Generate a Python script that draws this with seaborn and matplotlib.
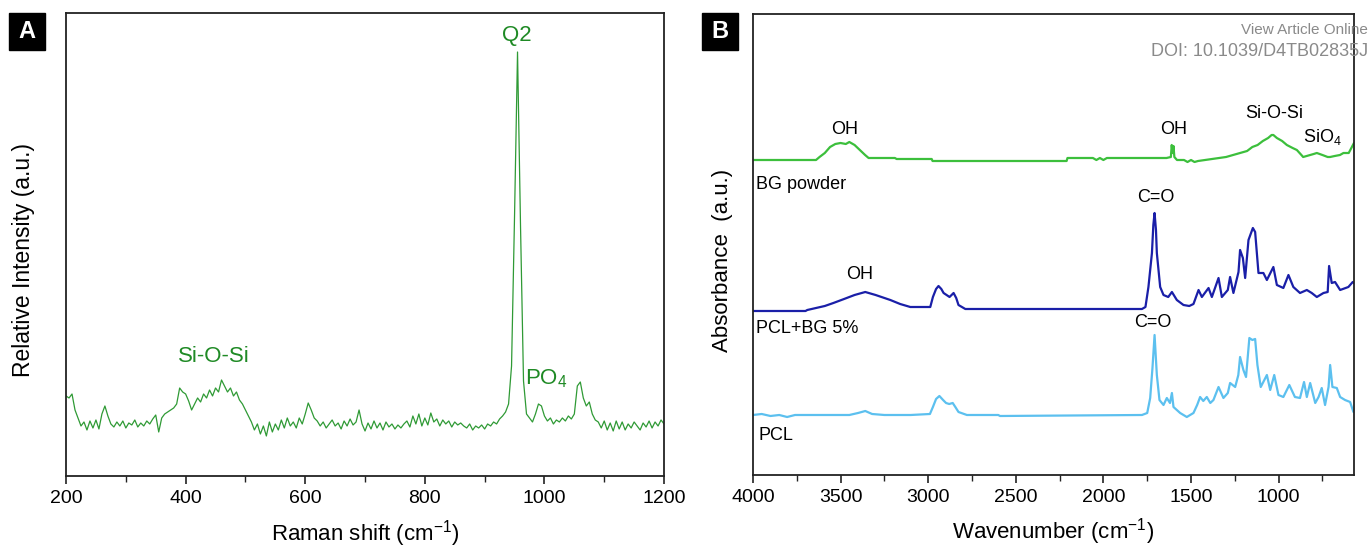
"""
Raman (A) and FTIR (B) spectra of the bioactive glass and PCL scaffolds,
values read off the published figure.
"""

import matplotlib
matplotlib.use("Agg")
import matplotlib.pyplot as plt
from matplotlib.patches import Rectangle
from matplotlib.ticker import MultipleLocator
import numpy as np
import seaborn as sns

# --- Panel A: Raman spectrum (step 5 cm-1) ---
raman_shift = np.arange(200, 1205, 5)
raman_intensity = [
    80, 78, 82, 66, 58, 50, 54, 46, 55, 48,
    56, 47, 62, 70, 60, 52, 49, 54, 50, 55,
    48, 53, 51, 56, 49, 53, 50, 55, 52, 57,
    61, 44, 58, 62, 64, 66, 68, 72, 88, 84,
    82, 75, 66, 72, 78, 74, 82, 78, 86, 80,
    88, 84, 96, 90, 84, 88, 80, 84, 76, 72,
    66, 60, 54, 46, 52, 42, 50, 40, 54, 44,
    52, 46, 56, 48, 58, 50, 54, 48, 58, 52,
    62, 73, 66, 58, 55, 50, 54, 48, 52, 56,
    50, 53, 47, 55, 50, 57, 51, 54, 66, 52,
    45, 53, 47, 55, 48, 53, 46, 54, 49, 52,
    47, 51, 48, 52, 55, 49, 60, 52, 62, 50,
    58, 51, 63, 54, 57, 50, 56, 52, 55, 49,
    54, 51, 53, 50, 48, 52, 46, 50, 48, 51,
    47, 52, 50, 54, 52, 57, 60, 64, 72, 110,
    260, 424, 250, 95, 62, 58, 54, 62, 72, 70,
    60, 55, 58, 52, 56, 54, 58, 55, 60, 57,
    62, 90, 94, 78, 70, 74, 62, 56, 54, 48,
    55, 46, 53, 45, 55, 47, 54, 46, 52, 48,
    54, 50, 46, 53, 49, 55, 48, 54, 50, 56,
    52,
]

# --- Panel B: FTIR spectra (stacked, arbitrary offsets) ---
bg_wn = [4000, 3640, 3620, 3590, 3560, 3530, 3500, 3470, 3450, 3420,
         3390, 3360, 3340, 3300, 3190, 3180, 2980, 2975, 2210, 2205,
         2060, 2040, 2020, 2000, 1980, 1640, 1615, 1610, 1605, 1600,
         1595, 1580, 1540, 1520, 1500, 1480, 1460, 1420, 1380, 1300,
         1260, 1220, 1180, 1150, 1120, 1090, 1060, 1040, 1030, 1010,
         980, 953, 920, 896, 870, 860, 840, 800, 782, 750,
         720, 706, 680, 650, 630, 600, 582, 570]
bg_abs = [315, 315, 318, 322, 328, 331, 332, 331, 333, 330,
          325, 320, 317, 317, 317, 316, 316, 314, 314, 317,
          317, 315, 317, 315, 317, 317, 318, 330, 322, 329,
          318, 315, 315, 313, 315, 313, 314, 315, 316, 318,
          320, 322, 324, 328, 330, 334, 337, 340, 340, 337,
          334, 330, 327, 325, 320, 318, 319, 321, 322, 320,
          318, 318, 319, 320, 322, 322, 328, 332]

pclbg_wn = [4000, 3850, 3700, 3690, 3640, 3590, 3541, 3480, 3420, 3359,
            3300, 3216, 3160, 3102, 2988, 2973, 2955, 2941, 2925, 2912,
            2878, 2855, 2840, 2827, 2788, 1780, 1760, 1743, 1723, 1715,
            1708, 1700, 1695, 1676, 1657, 1630, 1609, 1581, 1543, 1510,
            1486, 1457, 1438, 1400, 1381, 1343, 1324, 1290, 1277, 1258,
            1229, 1220, 1204, 1191, 1172, 1147, 1134, 1115, 1087, 1067,
            1030, 1010, 973, 944, 916, 878, 839, 811, 782, 744,
            720, 712, 697, 678, 649, 602, 577, 570]
pclbg_abs = [164, 164, 164, 165, 167, 169, 172, 176, 180, 183,
             180, 175, 171, 168, 168, 178, 186, 189, 186, 182,
             178, 182, 177, 170, 166, 166, 168, 188, 222, 250,
             262, 245, 222, 188, 180, 178, 183, 175, 170, 169,
             171, 185, 178, 187, 178, 197, 178, 185, 198, 182,
             203, 225, 217, 197, 235, 247, 243, 202, 202, 195,
             208, 190, 187, 200, 188, 182, 185, 182, 178, 182,
             183, 209, 192, 193, 185, 188, 193, 192]

pcl_wn = [4000, 3950, 3900, 3850, 3805, 3760, 3700, 3600, 3450, 3400,
          3359, 3320, 3250, 3100, 2990, 2973, 2955, 2936, 2915, 2898,
          2880, 2860, 2845, 2827, 2779, 2600, 2590, 1780, 1750, 1733,
          1720, 1708, 1695, 1680, 1657, 1638, 1620, 1609, 1600, 1562,
          1524, 1486, 1465, 1448, 1430, 1410, 1390, 1372, 1343, 1315,
          1290, 1277, 1248, 1230, 1220, 1201, 1186, 1167, 1150, 1134,
          1121, 1102, 1067, 1048, 1025, 1001, 973, 939, 907, 878,
          855, 839, 820, 791, 772, 754, 735, 715, 706, 693,
          668, 649, 621, 592, 573]
pcl_abs = [60, 61, 59, 60, 58, 60, 60, 60, 60, 62,
           64, 61, 60, 60, 61, 68, 76, 79, 75, 72,
           71, 72, 68, 63, 60, 60, 59, 60, 62, 77,
           107, 140, 100, 75, 70, 77, 72, 82, 68, 62,
           58, 62, 70, 78, 74, 78, 72, 75, 88, 77,
           82, 92, 88, 100, 118, 105, 98, 137, 135, 136,
           110, 88, 100, 85, 100, 80, 78, 90, 78, 77,
           93, 78, 92, 72, 78, 87, 70, 88, 110, 88,
           87, 78, 75, 73, 63]

GREEN_A = "#2f9a35"
TEXT_A = "#1f8a25"
GREEN_B = "#3cbf3c"
BLUE_B = "#1a1fa8"
LIGHT_B = "#5cc0ef"

sns.set_style("ticks")
plt.rcParams["font.family"] = ["Liberation Sans", "DejaVu Sans"]
plt.rcParams["mathtext.fontset"] = "custom"
plt.rcParams["mathtext.rm"] = "Liberation Sans"
plt.rcParams["mathtext.it"] = "Liberation Sans:italic"
plt.rcParams["text.color"] = "black"
plt.rcParams["axes.labelcolor"] = "black"
plt.rcParams["xtick.labelcolor"] = "black"

fig = plt.figure(figsize=(13.7, 5.49), dpi=100)
ax_a = fig.add_axes([0.0482, 0.1330, 0.4365, 0.8433])
ax_b = fig.add_axes([0.5496, 0.1348, 0.4387, 0.8397])

# Panel A
sns.lineplot(x=raman_shift, y=raman_intensity, ax=ax_a, color=GREEN_A,
             linewidth=0.9)
ax_a.set_xlim(200, 1200)
ax_a.set_ylim(0, 463)
ax_a.xaxis.set_major_locator(MultipleLocator(200))
ax_a.xaxis.set_minor_locator(MultipleLocator(100))
ax_a.set_xlabel("Raman shift (cm$^{-1}$)", fontsize=16)
ax_a.set_ylabel("Relative Intensity (a.u.)", fontsize=16.5)
ax_a.xaxis.set_label_coords(0.5, -0.09)
ax_a.yaxis.set_label_coords(-0.052, 0.467)
ax_a.text(954, 441, "Q2", color=TEXT_A, fontsize=16, ha="center", va="center")
ax_a.text(447, 119, "Si-O-Si", color=TEXT_A, fontsize=16, ha="center", va="center")
ax_a.text(968, 97, "PO$_4$", color=TEXT_A, fontsize=16, ha="left", va="center")

# Panel B
sns.lineplot(x=bg_wn, y=bg_abs, ax=ax_b, color=GREEN_B, linewidth=1.6)
sns.lineplot(x=pclbg_wn, y=pclbg_abs, ax=ax_b, color=BLUE_B, linewidth=1.6)
sns.lineplot(x=pcl_wn, y=pcl_abs, ax=ax_b, color=LIGHT_B, linewidth=1.6)
ax_b.set_xlim(4000, 570)
ax_b.set_ylim(0, 461)
ax_b.xaxis.set_major_locator(MultipleLocator(500))
ax_b.xaxis.set_minor_locator(MultipleLocator(250))
ax_b.set_xlabel("Wavenumber (cm$^{-1}$)", fontsize=16)
ax_b.set_ylabel("Absorbance  (a.u.)", fontsize=16)
ax_b.xaxis.set_label_coords(0.5, -0.09)
ax_b.yaxis.set_label_coords(-0.033, 0.466)

notes_b = [
    (3474, 345, "OH", "center"),
    (1601, 345, "OH", "center"),
    (1026, 361, "Si-O-Si", "center"),
    (748, 338, "SiO$_4$", "center"),
    (3982, 290, "BG powder", "left"),
    (1703, 277, "C=O", "center"),
    (3390, 200, "OH", "center"),
    (3982, 146, "PCL+BG 5%", "left"),
    (1716, 152, "C=O", "center"),
    (3969, 39, "PCL", "left"),
]
for x, y, txt, ha in notes_b:
    ax_b.text(x, y, txt, fontsize=13, color="black", ha=ha, va="center")

for ax in (ax_a, ax_b):
    ax.set_yticks([])
    ax.tick_params(axis="x", which="major", direction="out", length=6,
                   width=1.2, labelsize=14, pad=4, color="#222222",
                   labelcolor="black")
    ax.tick_params(axis="x", which="minor", direction="out", length=4,
                   width=1.0, color="#222222")
    for sp in ax.spines.values():
        sp.set_visible(True)
        sp.set_color("#222222")
        sp.set_linewidth(1.3)

# panel letters in black squares
for x0, letter in [(0.00657, "A"), (0.5124, "B")]:
    fig.patches.append(Rectangle((x0, 0.9089), 0.0263, 0.0674,
                                 transform=fig.transFigure, color="black",
                                 zorder=5))
    fig.text(x0 + 0.0263 / 2, 0.9089 + 0.0674 / 2, letter, color="white",
             fontsize=17, fontweight="bold", ha="center", va="center",
             zorder=6)

# journal watermark
fig.text(0.9985, 1 - 30 / 549, "View Article Online", ha="right", va="center",
         fontsize=11, color="#8a8a8a")
fig.text(0.9985, 1 - 52 / 549, "DOI: 10.1039/D4TB02835J", ha="right",
         va="center", fontsize=13, color="#8a8a8a")

fig.savefig("out.png", dpi=100)
